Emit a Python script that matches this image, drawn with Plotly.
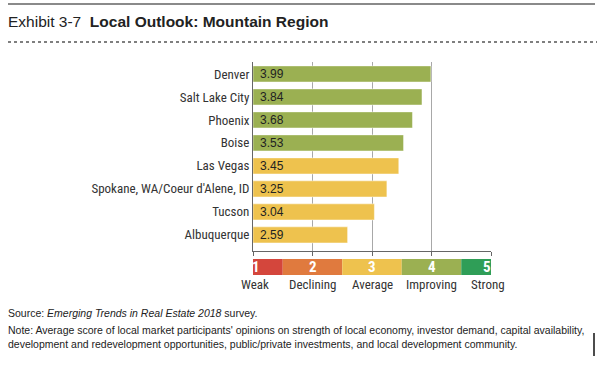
import plotly.graph_objects as go

cities = ["Denver", "Salt Lake City", "Phoenix", "Boise", "Las Vegas",
          "Spokane, WA/Coeur d'Alene, ID", "Tucson", "Albuquerque"]
scores = [3.99, 3.84, 3.68, 3.53, 3.45, 3.25, 3.04, 2.59]
bar_colors = ["#9bb052", "#9bb052", "#9bb052", "#9bb052",
              "#eec24e", "#eec24e", "#eec24e", "#eec24e"]

scale_values = [1, 2, 3, 4, 5]
scale_labels = ["Weak", "Declining", "Average", "Improving", "Strong"]
scale_colors = ["#d4463c", "#e07a3e", "#eec24e", "#9bb052", "#2f9e57"]

W, H = 600, 365
def py(px):  # pixel y (from top) -> paper
    return 1 - px / H
def px_(x):
    return x / W

NARROW = "Liberation Sans Narrow, Arial Narrow, Roboto Condensed, Liberation Sans, sans-serif"
SANS = "Liberation Sans, Arial, Helvetica, sans-serif"

n = len(cities)
ypos = [n - 1 - i for i in range(n)]

fig = go.Figure()
fig.add_trace(go.Bar(
    y=ypos, x=[s - 1 for s in scores], base=1, orientation="h",
    marker=dict(color=bar_colors, line=dict(color="rgba(255,255,255,0.45)", width=1)),
    width=0.7, hoverinfo="skip",
))

fig.update_layout(
    width=W, height=H, margin=dict(l=0, r=0, t=0, b=0, autoexpand=False),
    paper_bgcolor="white", plot_bgcolor="white", showlegend=False,
    xaxis=dict(domain=[px_(253), px_(491)], range=[1, 5], tickvals=scale_values,
               showticklabels=False, showgrid=True, gridcolor="#a8a8a8", gridwidth=1,
               showline=True, linecolor="#666", linewidth=1, ticks="outside",
               ticklen=4, tickcolor="#666", zeroline=False, fixedrange=True,
               automargin=False),
    yaxis=dict(domain=[py(251), py(62)], range=[-0.7, n - 1 + 0.52],
               tickvals=ypos, ticktext=cities, showline=True, linecolor="#666",
               linewidth=1, ticks="", showgrid=False, zeroline=False, automargin=False,
               tickfont=dict(family=NARROW, size=13, color="#333"), fixedrange=True),
    font=dict(family=SANS),
)

shapes = []
annotations = []
# value labels inside bars
for yv, s in zip(ypos, scores):
    annotations.append(dict(xref="x", yref="y", x=1, y=yv, xanchor="left", yanchor="middle",
                            xshift=5, showarrow=False, text=f"{s:.2f}",
                            font=dict(family=SANS, size=12, color="#222")))
# header lines
shapes.append(dict(type="line", xref="paper", yref="paper", x0=px_(8), x1=px_(595),
                   y0=py(4), y1=py(4), line=dict(color="#8a8a8a", width=2)))
shapes.append(dict(type="line", xref="paper", yref="paper", x0=px_(8), x1=px_(597),
                   y0=py(42), y1=py(42), line=dict(color="#555", width=1.5, dash="dot")))
annotations.append(dict(xref="paper", yref="paper", x=px_(6), y=py(22), xanchor="left",
                        yanchor="middle", showarrow=False,
                        text="Exhibit 3-7  <b>Local Outlook: Mountain Region</b>",
                        font=dict(family=SANS, size=15.5, color="#222")))

# scale key
bounds = [0.94, 1.5, 2.5, 3.5, 4.5, 5.08]
num_pos = {1: 1.05, 5: 4.93}
lab_pos = {1: 1.03, 5: 4.95}
for i, (v, lab, col) in enumerate(zip(scale_values, scale_labels, scale_colors)):
    shapes.append(dict(type="rect", xref="x", yref="paper", x0=bounds[i], x1=bounds[i + 1],
                       y0=py(275), y1=py(259), fillcolor=col, line=dict(width=0)))
    annotations.append(dict(xref="x", yref="paper", x=num_pos.get(v, v), y=py(267),
                            xanchor="center", yanchor="middle", showarrow=False,
                            text=f"<b>{v}</b>", font=dict(family=NARROW, size=15, color="white")))
    annotations.append(dict(xref="x", yref="paper", x=lab_pos.get(v, v), y=py(284),
                            xanchor="center", yanchor="middle", showarrow=False,
                            text=lab, font=dict(family=NARROW, size=13, color="#333")))

# footer
annotations.append(dict(xref="paper", yref="paper", x=px_(6), y=py(313), xanchor="left",
                        yanchor="middle", showarrow=False,
                        text="Source: <i>Emerging Trends in Real Estate 2018</i> survey.",
                        font=dict(family=SANS, size=10.5, color="#222")))
annotations.append(dict(xref="paper", yref="paper", x=px_(6), y=py(337), xanchor="left",
                        yanchor="middle", showarrow=False, align="left",
                        text="Note: Average score of local market participants' opinions on strength of local economy, investor demand, capital availability,<br>"
                             "development and redevelopment opportunities, public/private investments, and local development community.",
                        font=dict(family=SANS, size=10.5, color="#222")))
shapes.append(dict(type="line", xref="paper", yref="paper", x0=px_(594), x1=px_(594),
                   y0=py(333), y1=py(356), line=dict(color="#111", width=1.5)))

fig.update_layout(shapes=shapes, annotations=annotations)
fig.write_html("out.html", config={"displayModeBar": False, "staticPlot": True},
               post_script="document.body.style.margin='0px';document.body.style.overflow='hidden';")
